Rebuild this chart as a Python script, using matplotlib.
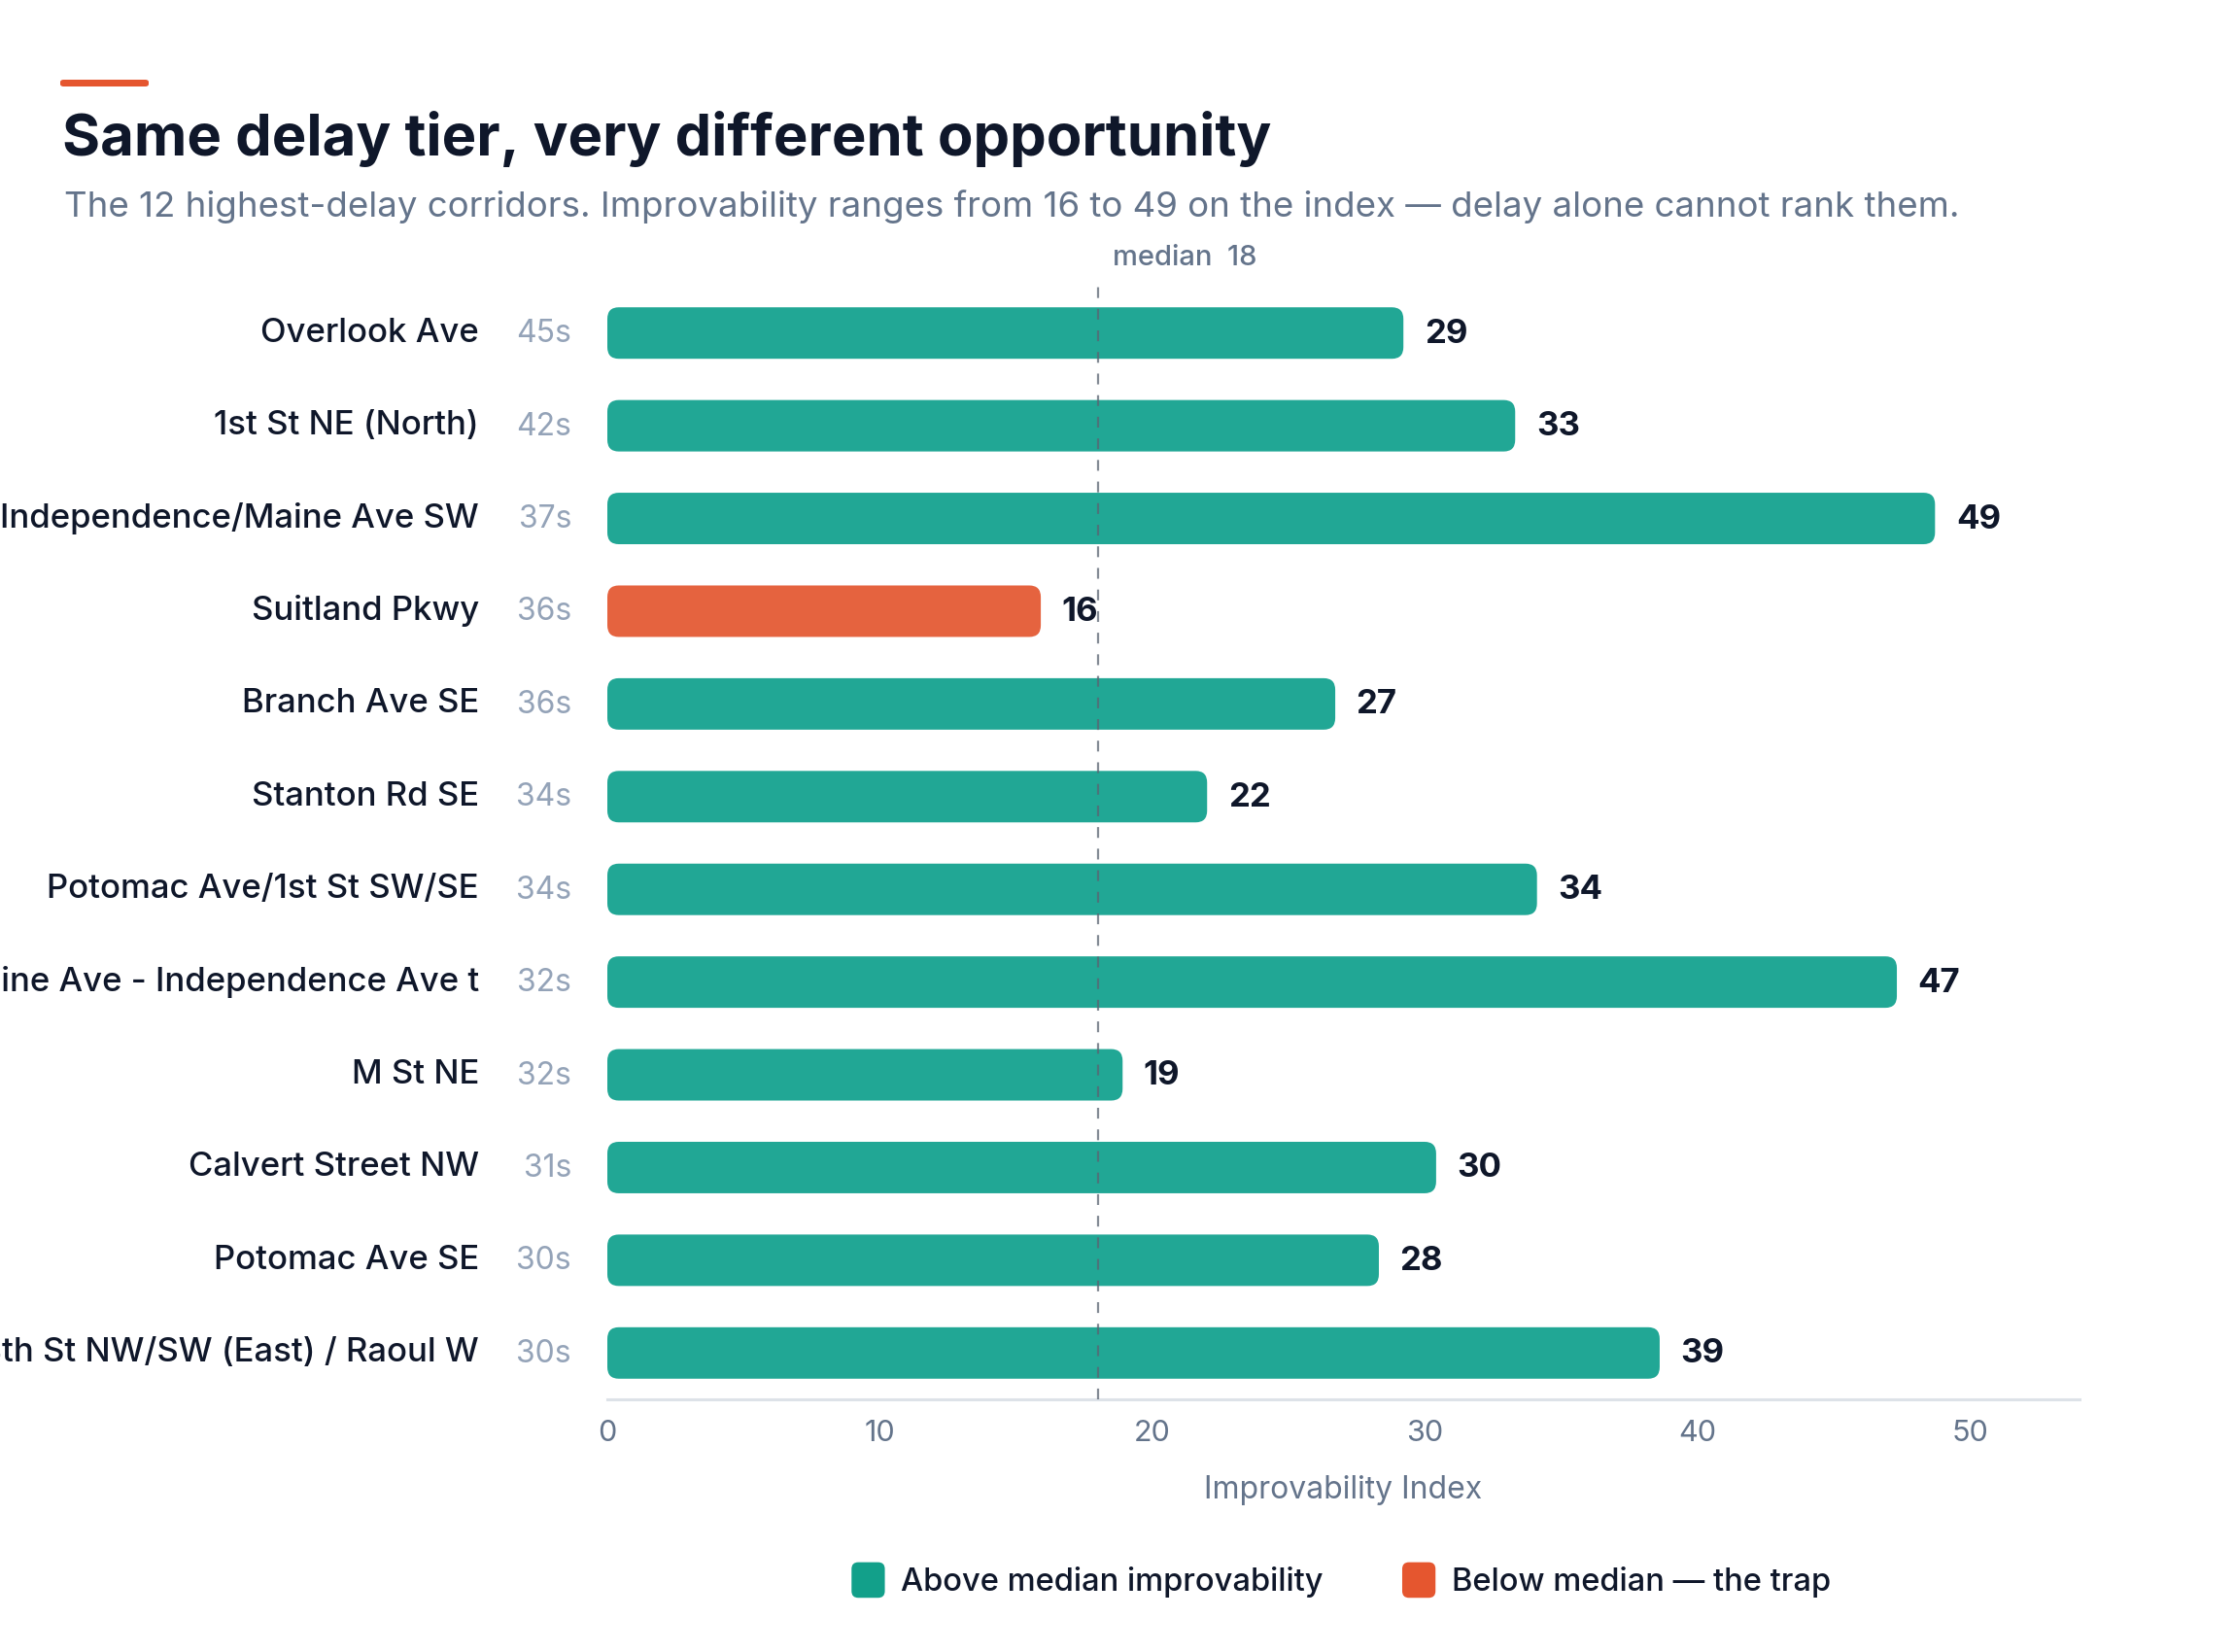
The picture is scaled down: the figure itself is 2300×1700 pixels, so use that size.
import numpy as np
import matplotlib
matplotlib.use("Agg")
import matplotlib.pyplot as plt
from matplotlib.patches import FancyBboxPatch, Patch
from matplotlib.legend_handler import HandlerPatch

plt.rcParams['font.family'] = ['Inter', 'DejaVu Sans']

# --- data ---
corridors = [
    "Overlook Ave",
    "1st St NE (North)",
    "Independence/Maine Ave SW",
    "Suitland Pkwy",
    "Branch Ave SE",
    "Stanton Rd SE",
    "Potomac Ave/1st St SW/SE",
    "Maine Ave - Independence Ave t",
    "M St NE",
    "Calvert Street NW",
    "Potomac Ave SE",
    "14th St NW/SW (East) / Raoul W",
]
delay_s = [45, 42, 37, 36, 36, 34, 34, 32, 32, 31, 30, 30]
improvability = [29.2, 33.3, 48.7, 15.9, 26.7, 22.0, 34.1, 47.3, 18.9, 30.4, 28.3, 38.6]
median_value = 18
x_ticks = [0, 10, 20, 30, 40, 50]

TEAL = '#21a795'
ORANGE = '#e5633f'
NAVY = '#0f172a'
SLATE = '#64748b'
LIGHT = '#94a3b8'

W, H = 2300, 1700
fig = plt.figure(figsize=(23, 17), dpi=100)
fig.patch.set_facecolor('white')

def px(x, y):
    # pixel position (from top-left) -> figure fraction
    return x / W, 1 - y / H

ax_l, ax_t = px(625, 295)
ax_r, ax_b = px(2140, 1440)
ax = fig.add_axes([ax_l, ax_b, ax_r - ax_l, ax_t - ax_b])

n = len(corridors)
ax.set_xlim(0, 54)
ax.set_ylim(n - 0.5, -0.5)

bar_h = 0.555
for i, (v, d) in enumerate(zip(improvability, delay_s)):
    col = TEAL if v >= median_value else ORANGE
    ax.add_patch(FancyBboxPatch((0, i - bar_h / 2), v, bar_h,
                                boxstyle="round,pad=0,rounding_size=0.42",
                                mutation_aspect=0.30,
                                facecolor=col, edgecolor='none', zorder=2))
    ax.annotate(f"{v:.0f}", xy=(v, i), xytext=(15.5, -0.7), textcoords='offset points',
                ha='left', va='center', fontsize=25, fontweight='bold', color=NAVY)
    ax.annotate(f"{d}s", xy=(0, i), xycoords=ax.get_yaxis_transform(),
                xytext=(-26.6, -0.7), textcoords='offset points',
                ha='right', va='center', fontsize=23, color=LIGHT)

ax.set_yticks(range(n))
ax.set_yticklabels(corridors, fontsize=25, color=NAVY, fontweight='medium', va='center')
ax.tick_params(axis='y', length=0, pad=95)

ax.set_xticks(x_ticks)
ax.set_xticklabels([str(t) for t in x_ticks], fontsize=22, color=SLATE)
ax.tick_params(axis='x', length=0, pad=15)
ax.set_xlabel("Improvability Index", fontsize=23, color=SLATE, labelpad=21)

for s in ['top', 'right', 'left']:
    ax.spines[s].set_visible(False)
ax.spines['bottom'].set_color('#dde2e8')
ax.spines['bottom'].set_linewidth(2.2)

# median reference
ax.axvline(median_value, color='#5b6472', linewidth=1.6, linestyle=(0, (5, 5)),
           alpha=0.75, zorder=3)
ax.annotate(f"median  {median_value}", xy=(median_value, 1), xycoords=('data', 'axes fraction'),
            xytext=(11, 21.5), textcoords='offset points',
            ha='left', va='center', fontsize=21, color=SLATE, fontweight='medium')

# header
x0, y0 = px(62, 82)
x1, y1 = px(153, 89)
fig.patches.append(FancyBboxPatch((x0, y1), x1 - x0, y0 - y1,
                                  boxstyle="round,pad=0,rounding_size=0.0015",
                                  transform=fig.transFigure, facecolor='#e5562f',
                                  edgecolor='none'))
tx, ty = px(64, 160)
fig.text(tx, ty, "Same delay tier, very different opportunity", fontsize=43,
         fontweight='bold', color=NAVY, va='baseline', ha='left')
sx, sy = px(66, 223)
fig.text(sx, sy, "The 12 highest-delay corridors. Improvability ranges from 16 to 49 on the index "
         "\u2014 delay alone cannot rank them.", fontsize=26.4, color=SLATE, va='baseline', ha='left')


class RoundHandler(HandlerPatch):
    def create_artists(self, legend, orig_handle, xdescent, ydescent, width, height,
                       fontsize, trans):
        p = FancyBboxPatch((-xdescent, -ydescent - 0.15 * height), width, height * 1.3,
                           boxstyle="round,pad=0,rounding_size=5",
                           facecolor=orig_handle.get_facecolor(), edgecolor='none',
                           transform=trans)
        return [p]


handles = [Patch(facecolor='#12a08a'), Patch(facecolor='#e5562f')]
lx, ly = px(1380, 1628)
leg = fig.legend(handles, ["Above median improvability", "Below median \u2014 the trap"],
                 loc='center', bbox_to_anchor=(lx, ly), ncol=2, frameon=False,
                 fontsize=23.5, labelcolor=NAVY, handlelength=1.05, handleheight=0.95,
                 handletextpad=0.5, columnspacing=2.5,
                 handler_map={Patch: RoundHandler()})
for t in leg.get_texts():
    t.set_fontweight('medium')

fig.savefig("out.png", dpi=100, facecolor='white')
